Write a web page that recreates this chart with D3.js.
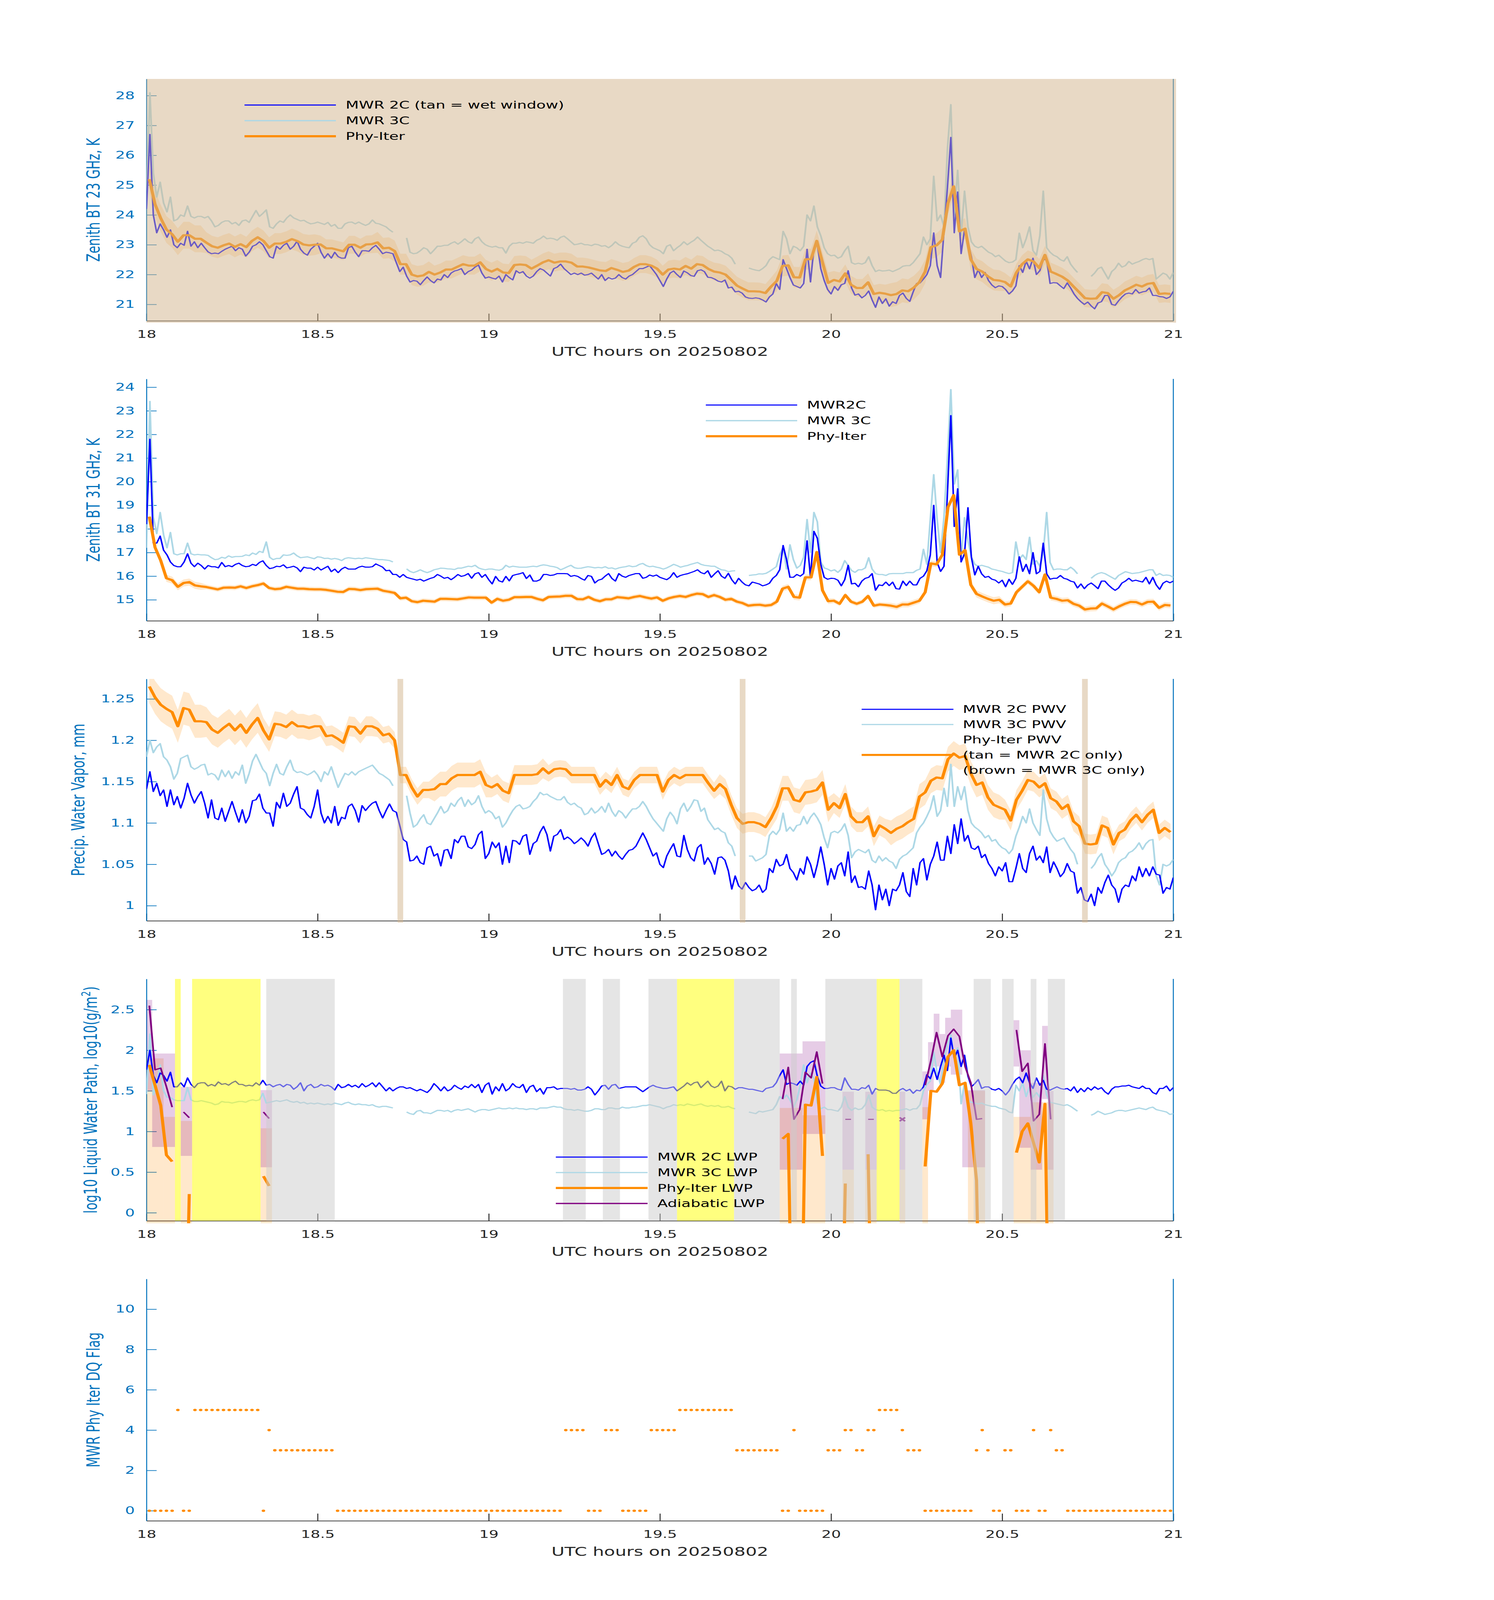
<!DOCTYPE html>
<html>
<head>
<meta charset="utf-8">
<script src="https://cdn.jsdelivr.net/npm/d3@7"></script>
<style>
  body { margin: 0; background: #fff; overflow: hidden; }
  svg { display: block; }
  text { font-family: "DejaVu Sans", sans-serif; }
</style>
</head>
<body>
<script>
// ---- values ----
var xTicks = [18, 18.5, 19, 19.5, 20, 20.5, 21];
var xLabel = "UTC hours on 20250802";

// MWR series: one value every 0.01 h from 18.00 to 21.00 (null = no data)
var bt23_2c = [
24.2,26.7,24.0,23.4,23.7,23.5,23.25,23.5,23.0,22.9,
23.05,22.98,23.45,22.95,23.1,22.9,23.05,22.9,22.76,22.7,
22.72,22.7,22.78,22.85,22.9,22.95,22.8,22.9,22.85,22.62,
22.75,22.95,23.0,23.1,23.0,22.8,22.6,22.55,22.95,22.85,
22.98,23.05,22.85,22.95,23.12,22.85,22.72,22.65,22.85,22.95,
23.05,22.75,22.55,22.7,22.55,22.75,22.6,22.55,22.55,22.9,
22.95,22.75,22.6,22.8,22.8,22.78,22.9,22.98,22.85,22.7,
22.75,22.73,22.7,22.4,22.1,22.25,21.95,21.75,21.8,21.78,
21.66,21.8,21.92,21.8,21.72,21.85,21.82,22.0,21.9,22.05,
22.12,22.15,22.2,22.0,22.1,22.15,22.25,22.32,22.05,21.88,
21.92,21.88,21.85,21.95,21.75,22.0,21.9,21.82,22.13,22.05,
22.1,21.95,21.88,21.95,22.1,22.2,22.15,22.05,21.95,22.2,
22.25,22.35,22.2,22.1,22.0,22.05,22.0,22.05,21.98,22.0,
22.05,21.95,21.85,22.0,21.8,21.9,21.85,21.88,22.0,21.9,
21.85,21.95,22.0,22.1,22.2,22.2,22.25,22.3,22.15,22.0,
21.8,21.6,21.85,22.05,22.12,22.0,21.9,22.12,22.06,21.97,
21.94,22.13,22.16,22.1,21.91,21.9,21.85,21.78,21.75,21.82,
21.55,21.58,21.42,21.44,21.38,21.25,21.21,21.2,21.22,21.2,
21.15,21.08,21.25,21.35,21.7,21.5,22.5,22.2,21.9,21.65,
21.6,21.55,21.7,22.85,21.75,22.9,23.0,22.2,21.8,21.5,
21.35,21.6,21.47,21.66,21.7,22.13,21.55,21.31,21.35,21.22,
21.3,21.45,21.15,20.9,21.25,21.03,21.19,20.94,21.09,21.03,
21.3,21.38,21.2,21.1,21.42,21.7,21.72,21.85,22.0,22.3,
23.4,22.3,21.9,23.45,24.9,26.6,23.4,24.77,22.7,23.5,
23.1,22.6,21.9,22.16,21.9,22.07,21.8,21.65,21.56,21.62,
21.6,21.5,21.35,21.45,21.62,22.3,22.07,22.45,22.19,22.55,
22.0,22.13,22.5,22.5,21.7,21.73,21.72,21.62,21.53,21.72,
21.55,21.35,21.2,21.09,21.0,21.08,20.95,20.85,21.05,21.09,
21.3,21.3,21.0,20.97,21.12,21.25,21.35,21.38,21.35,21.5,
21.38,21.42,21.44,21.55,21.3,21.3,21.26,21.25,21.2,21.25,
21.44];

var bt23_3c = [
24.3,28.1,25.4,24.6,25.1,24.4,24.1,24.6,23.8,23.85,
24.0,23.95,24.3,23.95,23.9,23.95,23.95,23.9,23.95,23.8,
23.6,23.65,23.75,23.8,23.8,23.7,23.75,23.65,23.8,23.83,
23.75,23.95,24.15,23.95,24.05,24.17,23.6,23.55,23.7,23.8,
23.75,23.9,24.0,23.9,23.85,23.8,23.82,23.75,23.7,23.72,
23.76,23.72,23.68,23.75,23.62,23.68,23.55,23.55,23.7,23.75,
23.76,23.7,23.76,23.7,23.65,23.7,23.83,23.72,23.7,23.65,
23.6,23.5,23.42,null,null,null,23.23,22.75,22.7,22.72,
22.8,22.9,22.85,22.7,22.82,22.95,22.95,22.98,22.98,23.05,
23.1,23.02,23.1,23.2,23.1,23.05,23.2,23.26,23.1,23.0,
22.95,22.92,22.95,22.9,22.9,22.72,22.95,23.05,23.05,23.08,
23.05,23.1,23.08,23.05,23.15,23.2,23.29,23.2,23.22,23.2,
23.15,23.25,23.29,23.2,23.1,23.0,23.02,23.05,23.0,23.0,
22.97,23.02,23.0,22.95,22.97,22.9,22.98,23.1,23.0,22.95,
22.92,22.9,23.05,23.1,23.25,23.3,23.2,23.0,22.9,22.85,
22.8,22.7,22.95,23.0,22.8,22.9,22.98,23.1,23.0,23.08,
23.15,23.26,23.15,23.05,22.95,22.88,22.8,22.82,22.78,22.7,
22.65,22.55,22.35,null,null,null,22.22,22.18,22.15,22.13,
22.2,22.3,22.5,22.6,22.55,22.5,23.45,23.2,22.7,22.95,
22.9,22.8,22.95,24.0,23.8,24.3,23.6,23.3,22.9,22.7,
22.63,22.65,22.55,22.6,22.8,22.95,22.4,22.35,22.38,22.35,
22.4,22.6,22.3,22.1,22.15,22.12,22.13,22.15,22.1,22.15,
22.2,22.28,22.3,22.3,22.4,22.55,22.7,23.26,23.0,23.2,
25.3,23.8,24.0,23.6,26.2,27.7,24.0,25.5,23.32,24.8,
23.6,23.1,22.95,22.9,22.95,22.85,22.75,22.7,22.6,22.65,
22.55,22.45,22.4,22.42,22.5,23.39,22.9,23.2,23.6,22.8,
22.65,23.3,24.8,22.9,22.75,22.65,22.6,22.5,22.45,22.6,
22.35,22.2,22.07,null,null,null,21.94,22.05,22.2,22.25,
22.05,21.85,22.1,22.2,22.38,22.25,22.3,22.44,22.35,22.4,
22.44,22.5,22.54,22.5,22.54,21.85,21.95,22.05,22.0,21.85,
22.07];

var bt31_2c = [
18.2,21.8,17.4,17.4,17.7,17.1,16.9,16.6,16.45,16.4,
16.4,16.6,16.95,16.55,16.4,16.55,16.45,16.3,16.45,16.4,
16.4,16.35,16.58,16.4,16.45,16.4,16.5,16.55,16.45,16.4,
16.42,16.5,16.45,16.58,16.65,16.45,16.32,16.35,16.42,16.4,
16.48,16.35,16.38,16.42,16.35,16.19,16.38,16.34,16.34,16.26,
16.38,16.26,16.34,16.42,16.19,16.3,16.15,16.3,16.38,16.3,
16.3,16.3,16.38,16.42,16.38,16.38,16.4,16.52,16.45,16.38,
16.23,16.25,16.07,16.07,15.95,16.07,15.95,15.91,15.87,15.83,
15.87,15.79,15.85,15.91,15.95,16.07,16.0,15.91,15.95,15.85,
15.95,16.07,15.99,16.03,16.11,15.91,16.1,16.15,15.95,16.07,
15.85,15.67,15.99,15.8,15.75,15.99,15.8,16.03,16.07,16.1,
16.15,15.9,16.05,15.79,15.79,15.85,16.07,16.07,16.03,16.05,
16.11,16.11,16.11,16.1,15.99,16.03,15.99,15.9,15.83,16.03,
15.99,15.71,15.83,15.87,16.0,16.11,15.9,15.79,16.11,16.0,
15.95,16.03,16.07,16.11,16.11,15.91,15.95,16.05,16.0,16.05,
15.95,15.9,15.85,15.95,16.15,15.95,16.03,16.07,16.1,16.15,
16.2,16.27,16.15,16.1,16.23,15.95,16.1,16.23,16.0,15.91,
16.12,15.85,15.67,15.91,15.75,15.63,15.59,15.75,15.71,15.67,
15.59,15.63,15.7,15.91,16.03,16.27,17.3,16.7,15.95,15.95,
16.07,16.0,16.11,17.5,15.95,17.9,17.6,16.5,15.95,15.87,
15.91,15.9,15.83,15.59,15.85,16.46,15.67,15.7,15.55,15.79,
15.91,15.95,16.11,15.4,15.63,15.6,15.75,15.6,15.75,15.47,
15.45,15.79,15.6,15.79,15.63,15.63,15.91,16.0,16.23,16.9,
19.0,16.58,16.2,16.42,19.5,22.8,18.1,19.7,16.6,16.95,
18.9,16.8,16.05,16.42,16.1,15.95,15.99,15.87,15.83,15.71,
15.83,15.55,15.87,15.65,15.91,16.82,16.2,16.5,16.1,17.0,
16.1,16.2,17.4,16.1,15.87,15.91,15.91,16.03,15.91,15.87,
15.79,15.75,15.5,15.67,15.47,15.63,15.71,15.6,15.47,15.79,
15.79,15.63,15.5,15.4,15.5,15.71,15.79,15.91,15.79,15.83,
15.79,15.75,15.95,15.67,15.95,15.63,15.44,15.7,15.79,15.72,
15.79];

var bt31_3c = [
17.2,23.4,18.5,17.8,18.7,17.75,17.2,17.85,16.95,16.9,
16.95,16.95,17.4,16.95,16.9,16.92,16.9,16.9,16.88,16.78,
16.7,16.72,16.8,16.76,16.86,16.8,16.83,16.83,16.84,16.9,
16.87,16.98,16.92,17.05,17.0,17.45,16.8,16.7,16.75,16.75,
16.9,16.88,16.9,16.98,16.86,16.78,16.8,16.82,16.78,16.74,
16.82,16.8,16.75,16.76,16.72,16.75,16.72,16.66,16.75,16.78,
16.76,16.74,16.76,16.74,16.78,16.76,16.74,16.72,16.7,16.7,
16.68,16.66,16.6,null,null,null,16.31,16.2,16.15,16.2,
16.27,16.2,16.15,16.2,16.27,16.3,16.34,16.33,16.31,16.3,
16.28,16.34,16.34,16.38,16.42,16.4,16.46,16.35,16.3,16.27,
16.3,16.3,16.27,16.25,16.3,16.46,16.38,16.42,16.4,16.38,
16.38,16.38,16.4,16.42,16.4,16.45,16.48,16.46,16.42,16.4,
16.36,16.27,16.33,16.4,16.46,16.36,16.33,16.34,16.37,16.4,
16.38,16.35,16.37,16.35,16.4,16.33,16.35,16.3,16.35,16.38,
16.4,16.44,16.4,16.42,16.5,16.54,16.45,16.4,16.42,16.38,
16.35,16.3,16.35,16.42,16.5,16.45,16.38,16.42,16.45,16.5,
16.54,16.58,16.5,16.46,16.44,16.42,16.42,16.34,16.27,16.25,
16.19,16.22,16.23,null,null,null,16.03,16.05,16.06,16.1,
16.09,16.12,16.2,16.3,16.4,16.9,17.22,16.3,17.33,16.7,
16.34,16.45,16.8,18.4,17.0,18.7,18.3,16.6,16.35,16.3,
16.22,16.27,16.16,16.3,16.66,16.45,16.24,16.16,16.27,16.27,
16.35,16.78,16.3,16.11,16.07,16.07,16.03,16.1,16.11,16.11,
16.11,16.11,16.15,16.15,16.15,16.25,16.3,17.14,16.5,18.4,
20.3,18.4,17.0,18.5,21.0,23.9,19.9,20.5,16.75,18.48,
17.5,16.82,16.5,16.42,16.46,16.42,16.38,16.3,16.27,16.23,
16.2,16.15,16.11,16.15,17.45,16.7,16.9,16.7,17.65,16.5,
16.66,16.42,17.0,18.7,16.58,16.27,16.3,16.3,16.27,16.27,
16.38,16.27,16.1,null,null,null,15.91,16.03,16.11,16.15,
16.11,16.03,15.95,15.87,16.03,16.11,16.19,16.15,16.11,16.13,
16.15,16.19,16.23,16.27,16.27,16.03,16.11,16.03,16.05,16.03,
15.95];

var pwv_2c = [
1.141,1.162,1.138,1.148,1.133,1.14,1.12,1.14,1.122,1.132,
1.118,1.13,1.148,1.134,1.124,1.132,1.138,1.124,1.106,1.128,
1.106,1.104,1.118,1.102,1.114,1.126,1.113,1.101,1.116,1.1,
1.108,1.127,1.128,1.135,1.118,1.112,1.112,1.096,1.125,1.118,
1.136,1.12,1.124,1.135,1.144,1.118,1.116,1.11,1.106,1.12,
1.14,1.112,1.1,1.108,1.1,1.12,1.097,1.107,1.105,1.12,
1.123,1.115,1.101,1.121,1.115,1.12,1.124,1.126,1.115,1.106,
1.115,1.123,1.115,1.113,1.097,1.08,1.077,1.054,1.055,1.06,
1.052,1.05,1.07,1.072,1.06,1.063,1.048,1.067,1.068,1.057,
1.08,1.076,1.084,1.084,1.071,1.069,1.074,1.086,1.09,1.057,
1.063,1.077,1.07,1.076,1.05,1.072,1.052,1.079,1.078,1.074,
1.084,1.086,1.062,1.075,1.078,1.089,1.096,1.086,1.066,1.084,
1.086,1.092,1.08,1.083,1.08,1.075,1.078,1.082,1.078,1.072,
1.082,1.088,1.075,1.062,1.064,1.068,1.06,1.066,1.06,1.056,
1.062,1.067,1.068,1.072,1.08,1.088,1.08,1.07,1.06,1.064,
1.05,1.046,1.06,1.068,1.075,1.06,1.059,1.085,1.068,1.058,
1.054,1.07,1.074,1.05,1.058,1.051,1.038,1.058,1.059,1.055,
1.042,1.02,1.036,1.024,1.02,1.028,1.022,1.018,1.02,1.025,
1.016,1.02,1.045,1.04,1.056,1.048,1.05,1.062,1.045,1.04,
1.031,1.045,1.038,1.059,1.05,1.034,1.05,1.071,1.05,1.025,
1.045,1.032,1.048,1.052,1.036,1.065,1.028,1.036,1.022,1.023,
1.02,1.042,1.025,0.995,1.025,1.007,1.02,1.0,1.02,1.018,
1.025,1.04,1.017,1.011,1.045,1.025,1.052,1.057,1.031,1.05,
1.06,1.077,1.055,1.055,1.084,1.063,1.098,1.075,1.105,1.078,
1.085,1.07,1.068,1.072,1.058,1.062,1.051,1.045,1.036,1.047,
1.042,1.052,1.029,1.029,1.045,1.063,1.045,1.04,1.063,1.072,
1.055,1.06,1.052,1.071,1.04,1.053,1.045,1.035,1.04,1.051,
1.042,1.04,1.015,1.022,1.007,1.005,1.014,1.0,1.022,1.015,
1.028,1.037,1.025,1.02,1.004,1.02,1.025,1.023,1.036,1.03,
1.047,1.035,1.045,1.036,1.047,1.038,1.037,1.015,1.022,1.02,
1.034];

var pwv_3c = [
1.18,1.2,1.185,1.192,1.196,1.18,1.176,1.168,1.153,1.16,
1.178,1.18,1.182,1.168,1.165,1.167,1.17,1.171,1.158,1.16,
1.158,1.152,1.164,1.156,1.163,1.154,1.162,1.158,1.17,1.148,
1.16,1.175,1.183,1.174,1.165,1.16,1.145,1.16,1.171,1.16,
1.158,1.168,1.176,1.164,1.161,1.162,1.16,1.158,1.16,1.163,
1.158,1.15,1.162,1.158,1.168,1.155,1.143,1.152,1.16,1.158,
1.162,1.158,1.162,1.164,1.166,1.168,1.17,1.165,1.16,1.158,
1.155,1.152,1.145,null,null,null,1.133,1.112,1.095,1.098,
1.105,1.11,1.1,1.098,1.105,1.112,1.12,1.112,1.115,1.124,
1.12,1.127,1.131,1.12,1.128,1.122,1.125,1.133,1.12,1.112,
1.115,1.112,1.105,1.108,1.095,1.1,1.108,1.115,1.12,1.122,
1.117,1.118,1.12,1.126,1.13,1.137,1.134,1.135,1.132,1.13,
1.128,1.128,1.132,1.125,1.122,1.124,1.12,1.118,1.11,1.112,
1.118,1.112,1.115,1.12,1.113,1.124,1.114,1.108,1.115,1.112,
1.106,1.112,1.117,1.117,1.12,1.126,1.12,1.112,1.105,1.1,
1.095,1.09,1.105,1.113,1.108,1.099,1.117,1.124,1.114,1.12,
1.128,1.127,1.114,1.118,1.104,1.098,1.092,1.094,1.09,1.088,
1.076,1.072,1.06,null,null,null,1.06,1.06,1.054,1.056,
1.058,1.062,1.085,1.09,1.086,1.092,1.112,1.09,1.095,1.09,
1.097,1.098,1.108,1.099,1.107,1.112,1.106,1.098,1.082,1.07,
1.088,1.09,1.088,1.092,1.099,1.085,1.058,1.065,1.068,1.066,
1.064,1.068,1.055,1.052,1.06,1.054,1.058,1.054,1.052,1.045,
1.056,1.06,1.062,1.066,1.07,1.088,1.095,1.1,1.108,1.117,
1.133,1.108,1.115,1.142,1.12,1.171,1.12,1.144,1.128,1.144,
1.115,1.1,1.095,1.092,1.088,1.082,1.085,1.078,1.08,1.074,
1.07,1.068,1.063,1.068,1.084,1.095,1.108,1.1,1.117,1.1,
1.092,1.085,1.14,1.105,1.09,1.083,1.078,1.08,1.082,1.075,
1.068,1.063,1.05,null,null,null,1.045,1.05,1.058,1.063,
1.05,1.044,1.036,1.042,1.052,1.056,1.058,1.064,1.066,1.07,
1.076,1.068,1.075,1.079,1.08,1.036,1.025,1.05,1.048,1.05,
1.056];

var lwp_2c = [
1.76,2.0,1.69,1.6,1.72,1.69,1.62,1.73,1.55,1.55,
1.6,1.55,1.66,1.58,1.54,1.59,1.6,1.6,1.56,1.58,
1.56,1.61,1.58,1.59,1.57,1.6,1.62,1.58,1.58,1.56,
1.57,1.56,1.6,1.57,1.63,1.57,1.58,1.55,1.57,1.58,
1.55,1.58,1.57,1.52,1.55,1.6,1.5,1.56,1.58,1.54,
1.55,1.58,1.56,1.57,1.55,1.51,1.58,1.54,1.55,1.58,
1.55,1.57,1.54,1.59,1.55,1.57,1.6,1.55,1.6,1.55,
1.5,1.54,1.5,1.53,1.55,1.55,1.53,1.54,1.52,1.5,
1.52,1.5,1.48,1.52,1.59,1.55,1.5,1.55,1.5,1.52,
1.57,1.54,1.52,1.56,1.54,1.58,1.54,1.58,1.48,1.57,
1.6,1.46,1.55,1.5,1.59,1.5,1.53,1.59,1.55,1.54,
1.58,1.48,1.55,1.57,1.49,1.53,1.46,1.54,1.54,1.55,
1.52,1.53,1.53,1.53,1.52,1.53,1.51,1.51,1.52,1.55,
1.52,1.45,1.5,1.56,1.57,1.52,1.57,1.58,1.53,1.54,
1.55,1.55,1.55,1.55,1.52,1.49,1.52,1.55,1.57,1.55,
1.54,1.53,1.53,1.54,1.55,1.5,1.53,1.56,1.6,1.57,
1.6,1.61,1.54,1.58,1.62,1.56,1.54,1.56,1.62,1.5,
1.56,1.55,1.52,1.54,1.54,1.53,1.52,1.52,1.51,1.5,
1.49,1.53,1.54,1.55,1.6,1.69,1.76,1.58,1.6,1.59,
1.57,1.62,1.57,1.8,1.85,1.87,1.68,1.56,1.53,1.53,
1.54,1.54,1.52,1.51,1.66,1.58,1.52,1.52,1.51,1.54,
1.53,1.57,1.46,1.53,1.51,1.51,1.51,1.5,1.47,1.47,
1.51,1.53,1.5,1.52,1.47,1.51,1.5,1.55,1.7,1.65,
1.78,1.64,1.8,1.94,1.75,2.15,1.9,2.0,1.8,1.94,
1.68,1.55,1.59,1.64,1.53,1.55,1.55,1.52,1.51,1.53,
1.5,1.45,1.5,1.58,1.64,1.67,1.6,1.72,1.6,1.53,
1.66,1.57,1.63,1.52,1.51,1.53,1.55,1.53,1.52,1.53,
1.5,1.55,1.48,1.53,1.49,1.54,1.51,1.55,1.52,1.54,
1.49,1.46,1.52,1.55,1.55,1.56,1.56,1.57,1.55,1.54,
1.53,1.56,1.53,1.53,1.48,1.46,1.53,1.53,1.56,1.5,
1.54];

var lwp_3c = [
1.46,2.2,1.45,1.6,1.82,1.5,1.42,1.42,1.39,1.38,
1.38,1.38,1.54,1.39,1.37,1.37,1.38,1.37,1.36,1.35,
1.33,1.34,1.37,1.36,1.36,1.35,1.36,1.37,1.37,1.36,
1.38,1.39,1.38,1.39,1.47,1.35,1.36,1.37,1.38,1.37,
1.38,1.39,1.37,1.36,1.37,1.35,1.36,1.34,1.35,1.34,
1.35,1.34,1.33,1.34,1.33,1.35,1.34,1.33,1.35,1.36,
1.34,1.33,1.34,1.33,1.33,1.32,1.33,1.31,1.3,1.31,
1.31,1.3,1.29,null,null,null,1.24,1.22,1.21,1.25,
1.26,1.23,1.23,1.22,1.24,1.26,1.26,1.25,1.26,1.24,
1.26,1.27,1.26,1.27,1.28,1.26,1.24,1.26,1.27,1.27,
1.26,1.27,1.28,1.29,1.28,1.28,1.29,1.28,1.29,1.28,
1.28,1.27,1.28,1.28,1.27,1.29,1.29,1.29,1.3,1.31,
1.3,1.3,1.28,1.27,1.27,1.26,1.27,1.26,1.25,1.25,
1.26,1.28,1.28,1.27,1.27,1.29,1.29,1.28,1.28,1.3,
1.29,1.29,1.3,1.3,1.31,1.32,1.32,1.33,1.32,1.31,
1.3,1.28,1.3,1.31,1.33,1.32,1.33,1.32,1.34,1.33,
1.32,1.33,1.34,1.32,1.31,1.32,1.31,1.32,1.3,1.3,
1.31,1.29,1.28,null,null,null,1.24,1.23,1.22,1.25,
1.24,1.25,1.26,1.27,1.33,1.43,1.4,1.45,1.39,1.3,
1.39,1.57,1.82,1.6,1.72,1.65,1.35,1.28,1.3,1.27,
1.27,1.26,1.25,1.3,1.43,1.3,1.26,1.29,1.27,1.28,
1.33,1.45,1.3,1.27,1.26,1.27,1.25,1.26,1.25,1.26,
1.26,1.27,1.28,1.26,1.28,1.28,1.33,1.5,1.58,1.62,
1.98,1.72,1.58,1.9,2.07,2.19,1.9,2.03,1.34,1.6,
1.38,1.36,1.35,1.34,1.35,1.33,1.32,1.31,1.31,1.29,
1.28,1.27,1.24,1.23,1.57,1.5,1.6,1.43,1.55,1.42,
1.48,1.42,1.69,1.45,1.36,1.35,1.34,1.33,1.32,1.33,
1.31,1.28,1.25,null,null,null,1.2,1.22,1.25,1.23,
1.21,1.22,1.23,1.25,1.26,1.26,1.25,1.26,1.27,1.28,
1.29,1.28,1.27,1.29,1.3,1.27,1.26,1.25,1.24,1.21,
1.22];

// Phy-Iter retrievals: one value per minute (centre of minute k, k = 0..179)
var phy23 = [
25.2,24.36,23.89,23.51,23.35,23.1,23.32,23.32,23.2,23.2,
23.07,22.95,22.9,22.98,23.04,22.93,23.02,22.92,23.13,23.25,
23.13,22.9,23.04,23.04,23.1,23.19,23.12,23.01,22.98,23.0,
23.01,22.88,22.88,22.83,22.78,23.0,23.0,22.9,23.01,23.02,
23.08,22.88,22.9,22.79,22.35,22.35,22.0,21.94,21.97,22.09,
22.0,22.07,22.17,22.17,22.26,22.35,22.3,22.3,22.41,22.19,
22.1,22.19,22.07,22.05,22.32,22.34,22.32,22.2,22.3,22.41,
22.48,22.4,22.44,22.44,22.4,22.27,22.27,22.24,22.19,22.14,
22.12,22.22,22.16,22.09,22.13,22.26,22.35,22.35,22.3,22.2,
22.0,22.17,22.2,22.17,22.29,22.2,22.35,22.32,22.19,22.1,
22.07,22.0,21.82,21.63,21.53,21.44,21.44,21.43,21.38,21.6,
21.79,22.29,22.31,21.91,21.9,22.51,22.52,23.13,22.41,21.72,
21.82,21.77,22.04,21.66,21.55,21.55,21.74,21.35,21.39,21.36,
21.31,21.35,21.47,21.44,21.56,21.75,22.1,22.92,22.98,23.17,
24.39,24.96,23.45,23.54,22.51,22.19,22.1,21.94,21.82,21.8,
21.75,21.6,22.07,22.35,22.51,22.44,22.22,22.66,22.1,22.02,
21.93,21.8,21.6,21.41,21.21,21.19,21.2,21.41,21.38,21.19,
21.31,21.47,21.56,21.66,21.6,21.69,21.72,21.35,21.37,21.35];

var phy31 = [
18.52,17.22,16.66,15.91,15.83,15.55,15.71,15.75,15.61,15.57,
15.54,15.49,15.44,15.51,15.52,15.51,15.57,15.5,15.57,15.62,
15.69,15.5,15.45,15.47,15.55,15.51,15.47,15.47,15.45,15.44,
15.44,15.42,15.38,15.34,15.33,15.46,15.45,15.41,15.45,15.46,
15.47,15.38,15.34,15.29,15.06,15.09,14.94,14.9,14.96,14.94,
14.92,15.04,15.04,15.03,15.02,15.06,15.1,15.09,15.09,15.09,
14.88,15.04,14.96,15.0,15.11,15.11,15.12,15.12,15.04,14.98,
15.12,15.13,15.14,15.17,15.17,15.03,15.02,15.12,15.0,14.94,
15.02,15.02,15.11,15.09,15.06,15.12,15.16,15.1,15.05,15.1,
14.96,15.06,15.12,15.16,15.12,15.2,15.26,15.24,15.12,15.2,
15.12,15.0,15.04,14.92,14.86,14.75,14.78,14.79,14.75,14.78,
14.92,15.47,15.55,15.12,15.09,15.95,15.95,17.02,15.4,14.94,
14.96,14.83,15.2,14.92,14.83,14.92,15.16,14.75,14.8,14.78,
14.75,14.7,14.8,14.8,14.88,14.96,15.32,16.54,16.5,16.9,
18.92,19.43,16.91,17.1,15.63,15.25,15.14,15.04,14.96,15.0,
14.8,14.84,15.32,15.55,15.78,15.59,15.32,16.07,15.09,15.04,
14.96,14.98,14.83,14.75,14.59,14.63,14.64,14.84,14.72,14.59,
14.72,14.83,14.91,14.9,14.8,14.91,14.92,14.66,14.78,14.76];

var phyPwv = [
1.265,1.252,1.243,1.238,1.234,1.217,1.239,1.237,1.223,1.223,
1.222,1.213,1.209,1.215,1.22,1.212,1.219,1.209,1.219,1.227,
1.212,1.201,1.22,1.219,1.216,1.222,1.217,1.217,1.215,1.217,
1.217,1.205,1.206,1.202,1.197,1.217,1.216,1.208,1.217,1.217,
1.214,1.206,1.208,1.2,1.158,1.158,1.143,1.132,1.14,1.14,
1.141,1.147,1.147,1.154,1.158,1.158,1.158,1.158,1.162,1.146,
1.143,1.147,1.139,1.136,1.158,1.158,1.158,1.158,1.159,1.166,
1.16,1.165,1.166,1.165,1.158,1.158,1.158,1.158,1.158,1.144,
1.152,1.146,1.158,1.144,1.141,1.152,1.158,1.158,1.158,1.158,
1.138,1.152,1.158,1.154,1.158,1.158,1.158,1.158,1.148,1.139,
1.147,1.141,1.122,1.106,1.099,1.101,1.101,1.099,1.095,1.106,
1.12,1.142,1.142,1.128,1.126,1.137,1.138,1.14,1.149,1.116,
1.124,1.118,1.135,1.108,1.101,1.101,1.108,1.084,1.097,1.093,
1.088,1.093,1.096,1.101,1.105,1.132,1.137,1.151,1.155,1.154,
1.177,1.184,1.179,1.181,1.16,1.146,1.149,1.131,1.122,1.119,
1.116,1.103,1.128,1.139,1.152,1.15,1.143,1.148,1.13,1.126,
1.117,1.122,1.102,1.096,1.075,1.074,1.075,1.097,1.094,1.074,
1.088,1.092,1.103,1.11,1.101,1.11,1.116,1.088,1.094,1.089];

// Phy-Iter uncertainty (half width), one value per 10-minute block
var phy23Err = [0.45,0.35,0.35,0.3,0.35,0.3,0.3,0.3,0.3,0.3,0.3,0.35,0.3,0.4,0.35,0.3,0.3,0.3];
var phy31Err = [0.15,0.1,0.1,0.1,0.1,0.1,0.1,0.1,0.1,0.1,0.1,0.12,0.1,0.12,0.15,0.12,0.12,0.12];
var phyPwvErr = [0.02,0.018,0.015,0.012,0.01,0.015,0.012,0.01,0.01,0.01,0.012,0.015,0.012,0.015,0.015,0.012,0.012,0.01];

// log10 LWP, only where retrieved (minute index, value); -3 = far below the axis
var phyLwpMin = [0,1,2,3,4,6,7,20,21,111,112,113,114,115,116,117,118,121,122,126,127,
  136,137,138,139,140,141,142,143,144,145,146,152,153,154,155,156,157,158];
var phyLwpVal = [1.82,1.57,1.32,0.71,0.63,-3,0.23,0.45,0.33,0.91,0.97,-3,-3,1.33,1.32,1.67,0.7,-3,0.36,0.72,-3,
  0.57,1.5,1.49,1.59,1.92,2.0,1.57,1.6,1.1,0.4,-3,0.74,1.0,1.1,0.86,0.62,1.34,-3];
var adiaMin = [0,1,2,3,4,6,7,20,21,111,112,113,114,115,116,117,118,122,123,126,127,132,
  136,137,138,139,140,141,142,143,144,145,146,152,153,154,155,156,157,158];
var adiaVal = [2.55,1.76,1.78,1.55,1.3,1.24,1.17,1.24,1.16,1.4,1.79,1.15,1.27,1.73,1.66,1.98,1.59,1.15,1.15,1.15,1.15,1.15,
  1.57,1.87,2.22,1.92,2.18,2.26,2.17,1.8,1.6,1.15,1.16,2.25,1.74,1.84,1.13,1.21,2.08,1.15];
// uncertainty ranges: [first minute, last minute, low, high]
var phyLwpBand = [[0,2,-3,1.9],[3,4,-3,1.18],[6,7,-3,1.13],[20,21,-3,1.04],[111,114,-3,1.29],[115,118,-3,1.2],
  [122,123,-3,0.53],[126,127,-3,0.53],[132,132,-3,0.53],[136,136,-3,1.3],[144,146,-3,1.5],[152,154,-3,1.18],[155,158,-3,1.36]];
var adiaBand = [[0,0,1.5,2.62],[1,4,0.81,1.96],[6,7,0.7,1.55],[20,21,0.56,1.51],[111,114,0.53,1.96],[115,118,0.97,2.11],
  [122,123,0.53,1.49],[126,127,0.53,1.49],[132,132,0.53,1.49],[136,136,1.15,1.74],[137,137,1.5,2.1],[138,138,1.8,2.45],
  [139,139,1.6,2.2],[140,140,1.8,2.4],[141,142,1.7,2.5],[143,146,0.56,1.51],[152,152,1.8,2.37],[153,154,0.8,2.0],
  [155,156,0.53,1.6],[157,157,1.4,2.3],[158,158,0.53,1.5]];

// Phy-Iter DQ flag, one per minute
var dqFlag = [
0,0,0,0,0,5,0,0,5,5, 5,5,5,5,5,5,5,5,5,5, 0,4,3,3,3,3,3,3,3,3, 3,3,3,0,0,0,0,0,0,0,
0,0,0,0,0,0,0,0,0,0, 0,0,0,0,0,0,0,0,0,0, 0,0,0,0,0,0,0,0,0,0, 0,0,0,4,4,4,4,0,0,0,
4,4,4,0,0,0,0,0,4,4, 4,4,4,5,5,5,5,5,5,5, 5,5,5,3,3,3,3,3,3,3, 3,0,0,4,0,0,0,0,0,3,
3,3,4,4,3,3,4,4,5,5, 5,5,4,3,3,3,0,0,0,0, 0,0,0,0,0,3,4,3,0,0, 3,3,0,0,0,4,0,0,4,3,
3,0,0,0,0,0,0,0,0,0, 0,0,0,0,0,0,0,0,0,0];

// minutes flagged as MWR 2C wet window in the PWV panel
var wetMinutes = [44, 104, 164];

// ---- layout (figure units are 3825 x 6000) ----
var W = 3825, H = 6000;
var left = 375, right = 3004, top0 = 296, step = 1125, ph = 907;
var blue = "#0000ff", lightblue = "#add8e6", orange = "#ff8c00", purple = "#800080";
var axisBlue = "#0072bd", dark = "#262626", tan = "rgb(210,180,140)";

// the window may be shorter than the figure: fit the whole figure into what is visible
var viewH = Math.min(H, window.innerHeight || H);
var svg = d3.select("body").append("svg")
  .attr("width", W).attr("height", viewH)
  .attr("viewBox", "0 0 " + W + " " + H)
  .attr("preserveAspectRatio", "none");
var x = d3.scaleLinear().domain([18, 21]).range([left, right]);

function gridPts(vals) { return vals.map(function(v, i) { return [18 + i / 100, v]; }); }
function minPts(vals) { return vals.map(function(v, k) { return [18 + (k + 0.5) / 60, v]; }); }
function sparse(mins, vals) {
  var a = d3.range(180).map(function() { return null; });
  mins.forEach(function(k, j) { a[k] = vals[j]; });
  return a;
}
function tfmt(v) { return String(+v.toFixed(2)); }

function makePanel(i, domain, ticks, labelX) {
  var top = top0 + i * step, bottom = top + ph;
  var y = d3.scaleLinear().domain(domain).range([bottom, top]);
  var g = svg.append("g");
  svg.append("clipPath").attr("id", "clip" + i).append("rect")
    .attr("x", left).attr("y", top).attr("width", right - left).attr("height", ph + (i == 3 ? 9 : 0));

  var xa = g.append("g").attr("transform", "translate(0," + bottom + ")")
    .call(d3.axisBottom(x).tickValues(xTicks).tickSizeInner(-27).tickSizeOuter(0).tickPadding(37).tickFormat(tfmt));
  xa.attr("font-size", 39).attr("font-family", "DejaVu Sans");
  xa.select(".domain").attr("stroke", dark).attr("stroke-width", 2.5);
  xa.selectAll(".tick line").attr("stroke", dark).attr("stroke-width", 2.5);
  xa.selectAll(".tick text").attr("fill", dark);

  var ya = g.append("g").attr("transform", "translate(" + left + ",0)")
    .call(d3.axisLeft(y).tickValues(ticks).tickSizeInner(-26).tickSizeOuter(0).tickPadding(30).tickFormat(tfmt));
  ya.attr("font-size", 39).attr("font-family", "DejaVu Sans");
  ya.select(".domain").attr("stroke", axisBlue).attr("stroke-width", 2.5);
  ya.selectAll(".tick line").attr("stroke", axisBlue).attr("stroke-width", 2.5);
  ya.selectAll(".tick text").attr("fill", axisBlue);

  g.append("line").attr("x1", right).attr("x2", right).attr("y1", top).attr("y2", bottom)
    .attr("stroke", axisBlue).attr("stroke-width", 2.5);

  g.append("text").attr("x", x(19.5)).attr("y", bottom + 131)
    .attr("text-anchor", "middle").attr("font-size", 46).attr("fill", dark).text(xLabel);

  var yl = g.append("text")
    .attr("transform", "translate(" + labelX + "," + (top + ph / 2) + ")rotate(-90)")
    .attr("text-anchor", "middle").attr("dy", "0.35em").attr("font-size", 46).attr("fill", axisBlue);

  var data = g.append("g").attr("clip-path", "url(#clip" + i + ")");
  return { g: g, y: y, top: top, bottom: bottom, data: data, ylabel: yl };
}

function lineOf(y) {
  return d3.line()
    .defined(function(d) { return d[1] != null; })
    .x(function(d) { return x(d[0]); })
    .y(function(d) { return y(d[1]); });
}
function drawLine(p, pts, color, w) {
  p.data.append("path").datum(pts)
    .attr("fill", "none").attr("stroke", color).attr("stroke-width", w)
    .attr("stroke-linejoin", "round").attr("d", lineOf(p.y));
}
function drawBand(p, vals, err) {
  var pts = minPts(vals).map(function(d, k) { return [d[0], d[1], err[Math.floor(k / 10)]]; });
  p.data.append("path").datum(pts)
    .attr("fill", orange).attr("fill-opacity", 0.2)
    .attr("d", d3.area()
      .x(function(d) { return x(d[0]); })
      .y0(function(d) { return p.y(d[1] - d[2]); })
      .y1(function(d) { return p.y(d[1] + d[2]); }));
}
function legend(p, x0, x1, tx, y0, dy, rows) {
  rows.forEach(function(r, j) {
    var yy = p.top + y0 + j * dy;
    if (r.color) {
      p.g.append("line").attr("x1", x0).attr("x2", x1).attr("y1", yy).attr("y2", yy)
        .attr("stroke", r.color).attr("stroke-width", r.w);
    }
    p.g.append("text").attr("x", tx).attr("y", yy).attr("dy", "0.35em")
      .attr("font-size", 39).attr("fill", "#000").text(r.text);
  });
}

// ---- panel 1: 23 GHz ----
var p1 = makePanel(0, [20.45, 28.56], [21, 22, 23, 24, 25, 26, 27, 28], 239);
p1.ylabel.text("Zenith BT 23 GHz, K");
drawBand(p1, phy23, phy23Err);
drawLine(p1, gridPts(bt23_3c), lightblue, 4.5);
drawLine(p1, gridPts(bt23_2c), blue, 4);
drawLine(p1, minPts(phy23), orange, 8);
p1.g.append("rect").attr("x", x(18)).attr("y", p1.top)
  .attr("width", x(21) - x(18) + 7).attr("height", ph + 7)
  .attr("fill", tan).attr("fill-opacity", 0.5);
legend(p1, 626, 860, 885, 98, 58.5, [
  { text: "MWR 2C (tan = wet window)", color: blue, w: 4 },
  { text: "MWR 3C", color: lightblue, w: 4.5 },
  { text: "Phy-Iter", color: orange, w: 8 }]);

// ---- panel 2: 31 GHz ----
var p2 = makePanel(1, [14.11, 24.35], d3.range(15, 25), 239);
p2.ylabel.text("Zenith BT 31 GHz, K");
drawBand(p2, phy31, phy31Err);
drawLine(p2, gridPts(bt31_3c), lightblue, 4.5);
drawLine(p2, gridPts(bt31_2c), blue, 4);
drawLine(p2, minPts(phy31), orange, 8);
legend(p2, 1807, 2041, 2066, 98, 58.5, [
  { text: "MWR2C", color: blue, w: 4 },
  { text: "MWR 3C", color: lightblue, w: 4.5 },
  { text: "Phy-Iter", color: orange, w: 8 }]);

// ---- panel 3: PWV ----
var p3 = makePanel(2, [0.9817, 1.2742], [1, 1.05, 1.1, 1.15, 1.2, 1.25], 200);
p3.ylabel.text("Precip. Water Vapor, mm");
drawBand(p3, phyPwv, phyPwvErr);
drawLine(p3, gridPts(pwv_3c), lightblue, 4.5);
drawLine(p3, gridPts(pwv_2c), blue, 4);
drawLine(p3, minPts(phyPwv), orange, 8);
p3.g.selectAll("rect.wet").data(wetMinutes).enter().append("rect")
  .attr("class", "wet")
  .attr("x", function(k) { return x(18 + k / 60); })
  .attr("width", function(k) { return x(18 + (k + 1) / 60) - x(18 + k / 60); })
  .attr("y", p3.top).attr("height", ph + 7)
  .attr("fill", tan).attr("fill-opacity", 0.5);
legend(p3, 2206, 2441, 2465, 114, 57, [
  { text: "MWR 2C PWV", color: blue, w: 4 },
  { text: "MWR 3C PWV", color: lightblue, w: 4.5 },
  { text: "Phy-Iter PWV" },
  { text: "(tan = MWR 2C only)", color: orange, w: 8 },
  { text: "(brown = MWR 3C only)" }]);

// ---- panel 4: LWP ----
var p4 = makePanel(3, [-0.099, 2.878], [0, 0.5, 1, 1.5, 2, 2.5], 232);
p4.ylabel.append("tspan").text("log10 Liquid Water Path, log10(g/m");
p4.ylabel.append("tspan").attr("dy", -17).attr("font-size", 32).text("2");
p4.ylabel.append("tspan").attr("dy", 17).text(")");
function bandRects(p, segs, color) {
  p.data.selectAll(null).data(segs).enter().append("rect")
    .attr("x", function(s) { return x(18 + s[0] / 60); })
    .attr("width", function(s) { return x(18 + (s[1] + 1) / 60) - x(18 + s[0] / 60); })
    .attr("y", function(s) { return p.y(s[3]); })
    .attr("height", function(s) { return p.y(s[2]) - p.y(s[3]); })
    .attr("fill", color).attr("fill-opacity", 0.2);
}
bandRects(p4, phyLwpBand, orange);
bandRects(p4, adiaBand, purple);
drawLine(p4, gridPts(lwp_3c), lightblue, 4.5);
drawLine(p4, gridPts(lwp_2c), blue, 4);
var phyLwp = sparse(phyLwpMin, phyLwpVal);
var adia = sparse(adiaMin, adiaVal);
drawLine(p4, minPts(phyLwp), orange, 8);
drawLine(p4, minPts(adia), purple, 4.5);
// isolated adiabatic values get a cross marker
minPts(adia).forEach(function(d, k) {
  if (d[1] == null || adia[k - 1] != null || adia[k + 1] != null) return;
  var cx = x(d[0]), cy = p4.y(d[1]), s = 7;
  p4.data.append("path").attr("d", "M" + (cx - s) + "," + (cy - s) + "L" + (cx + s) + "," + (cy + s) +
    "M" + (cx - s) + "," + (cy + s) + "L" + (cx + s) + "," + (cy - s))
    .attr("stroke", purple).attr("stroke-width", 5);
});
// DQ flag shading: 5 = yellow, 3/4 = gray
var runs = [];
dqFlag.forEach(function(f, k) {
  var c = f == 5 ? "y" : (f == 3 || f == 4) ? "g" : null;
  if (!c) return;
  var last = runs[runs.length - 1];
  if (last && last.c == c && last.k1 == k - 1) last.k1 = k;
  else runs.push({ c: c, k0: k, k1: k });
});
p4.g.selectAll(null).data(runs).enter().append("rect")
  .attr("x", function(r) { return x(18 + r.k0 / 60); })
  .attr("width", function(r) { return x(18 + (r.k1 + 1) / 60) - x(18 + r.k0 / 60); })
  .attr("y", p4.top).attr("height", ph)
  .attr("fill", function(r) { return r.c == "y" ? "#ffff00" : "#cccccc"; })
  .attr("fill-opacity", 0.5);
legend(p4, 1423, 1658, 1683, 668, 58, [
  { text: "MWR 2C LWP", color: blue, w: 4 },
  { text: "MWR 3C LWP", color: lightblue, w: 4.5 },
  { text: "Phy-Iter LWP", color: orange, w: 8 },
  { text: "Adiabatic LWP", color: purple, w: 4.5 }]);

// ---- panel 5: DQ flag ----
var p5 = makePanel(4, [-0.5, 11.5], [0, 2, 4, 6, 8, 10], 239);
p5.ylabel.text("MWR Phy Iter DQ Flag");
p5.data.selectAll("circle").data(minPts(dqFlag)).enter().append("circle")
  .attr("cx", function(d) { return x(d[0]); })
  .attr("cy", function(d) { return p5.y(d[1]); })
  .attr("r", 4.5).attr("fill", orange);
</script>
</body>
</html>
